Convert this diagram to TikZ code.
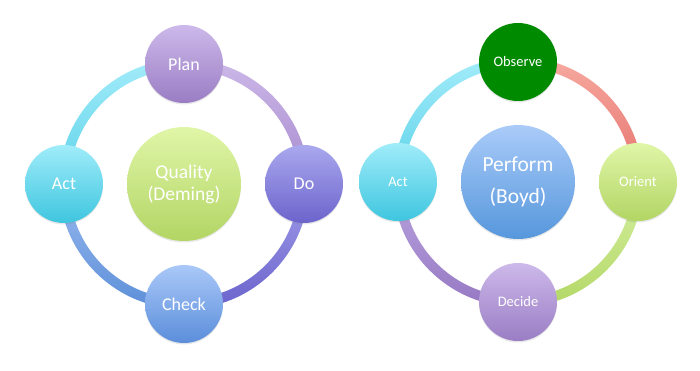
\documentclass[tikz,border=0pt]{standalone}
\usepackage{fontspec}
\setmainfont{Carlito}
\usetikzlibrary{calc,shadows}
\definecolor{planT}{HTML}{CDB9EA}\definecolor{planB}{HTML}{9A7DC4}
\definecolor{doT}{HTML}{AAA8EE}\definecolor{doB}{HTML}{6C64CC}
\definecolor{chkT}{HTML}{AAC8F8}\definecolor{chkB}{HTML}{5B8EDB}
\definecolor{actT}{HTML}{A0ECFA}\definecolor{actB}{HTML}{3EC6DF}
\definecolor{grnT}{HTML}{E0F6A8}\definecolor{grnB}{HTML}{B2D564}
\definecolor{bluT}{HTML}{AACBF9}\definecolor{bluB}{HTML}{5697DC}
\definecolor{obsC}{HTML}{008A00}
\definecolor{aTLt}{HTML}{A3ECFA}\definecolor{aTLb}{HTML}{5DD2E8}
\definecolor{aTRt}{HTML}{CCB8E8}\definecolor{aTRb}{HTML}{A88ACE}
\definecolor{aBRt}{HTML}{A19EE9}\definecolor{aBRb}{HTML}{6B63CC}
\definecolor{aBLt}{HTML}{9BBAF0}\definecolor{aBLb}{HTML}{5C8FD8}
\definecolor{rTRt}{HTML}{F7AAA0}\definecolor{rTRb}{HTML}{E4716C}
\definecolor{rBRt}{HTML}{D5F0A0}\definecolor{rBRb}{HTML}{B3D766}
\definecolor{rBLt}{HTML}{BBA6E0}\definecolor{rBLb}{HTML}{9678C3}
\newcommand{\ringarc}[5]{% center, a1, a2, top, bottom
  \shade[top color=#4, bottom color=#5]
    ($(#1)+(#2:125)$) arc[start angle=#2, end angle=#3, radius=125]
    -- ($(#1)+(#3:115)$) arc[start angle=#3, end angle=#2, radius=115] -- cycle;}
\begin{document}
\begin{tikzpicture}[x=1pt,y=1pt,
  ball/.style={circle, minimum size=78pt, inner sep=0pt, text=white,
    drop shadow={shadow xshift=0pt, shadow yshift=-1.5pt, opacity=0.18}},
  bigball/.style={ball, minimum size=114pt, align=center},
  lbig/.style={font=\fontsize{18}{20}\selectfont},
  lsmall/.style={font=\fontsize{14.5}{16}\selectfont},
  shd/.style 2 args={top color=#1, bottom color=#2}]
\useasboundingbox (0,0) rectangle (700,370);
% left diagram
\coordinate (L) at (184,186);
\ringarc{L}{90}{180}{aTLt}{aTLb}
\ringarc{L}{0}{90}{aTRt}{aTRb}
\ringarc{L}{-90}{0}{aBRt}{aBRb}
\ringarc{L}{180}{270}{aBLt}{aBLb}
\node[bigball, shd={grnT}{grnB}, font=\fontsize{19.5}{22}\selectfont] (quality) at (L) {Quality\\(Deming)};
\node[ball, lbig, shd={planT}{planB}] (plan) at ($(L)+(0,120)$) {Plan};
\node[ball, lbig, shd={doT}{doB}] (do) at ($(L)+(120,0)$) {Do};
\node[ball, lbig, shd={chkT}{chkB}] (check) at ($(L)+(0,-120)$) {Check};
\node[ball, lbig, shd={actT}{actB}] (act1) at ($(L)+(-120,0)$) {Act};
% right diagram
\coordinate (R) at (518,188);
\ringarc{R}{90}{180}{aTLt}{aTLb}
\ringarc{R}{0}{90}{rTRt}{rTRb}
\ringarc{R}{-90}{0}{rBRt}{rBRb}
\ringarc{R}{180}{270}{rBLt}{rBLb}
\node[bigball, shd={bluT}{bluB}, font=\fontsize{21.5}{32}\selectfont] (perform) at (R) {Perform\\(Boyd)};
\node[ball, lsmall, fill=obsC] (observe) at ($(R)+(0,120)$) {Observe};
\node[ball, lsmall, shd={grnT}{grnB}] (orient) at ($(R)+(120,0)$) {Orient};
\node[ball, lsmall, shd={planT}{planB}] (decide) at ($(R)+(0,-120)$) {Decide};
\node[ball, lsmall, shd={actT}{actB}] (act2) at ($(R)+(-120,0)$) {Act};
\end{tikzpicture}
\end{document}
